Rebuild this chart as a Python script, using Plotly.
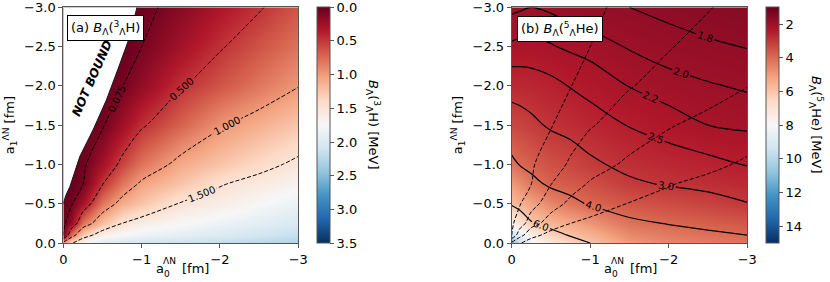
import plotly.graph_objects as go

# ---------------- data ----------------
# grid nodes: a0^{ΛN} (columns) and a1^{ΛN} (rows), in fm
A0 = [0, -0.1, -0.25, -0.5, -0.75, -1.0, -1.5, -2.0, -2.5, -3.0]
A1 = [0, -0.1, -0.25, -0.5, -0.75, -1.0, -1.5, -2.0, -2.5, -3.0]

# B_Λ(3ΛH) [MeV], one row per a1 node
B_H3 = [
    [1.10, 1.45, 1.75, 1.98, 2.05, 2.10, 2.15, 2.20, 2.25, 2.30],
    [0.05, 0.81, 1.33, 1.68, 1.78, 1.84, 1.92, 2.00, 2.08, 2.16],
    [0.03, 0.21, 0.81, 1.22, 1.50, 1.62, 1.74, 1.84, 1.94, 2.03],
    [0.00, 0.05, 0.29, 0.81, 1.10, 1.25, 1.52, 1.62, 1.74, 1.86],
    [0.00, 0.00, 0.075, 0.49, 0.82, 1.05, 1.26, 1.48, 1.60, 1.70],
    [0.00, 0.00, 0.033, 0.275, 0.57, 0.80, 1.09, 1.25, 1.41, 1.56],
    [0.00, 0.00, 0.00, 0.054, 0.255, 0.466, 0.72, 0.97, 1.12, 1.27],
    [0.00, 0.00, 0.00, 0.00, 0.066, 0.20, 0.478, 0.65, 0.82, 0.99],
    [0.00, 0.00, 0.00, 0.00, 0.00, 0.075, 0.276, 0.477, 0.64, 0.80],
    [0.00, 0.00, 0.00, 0.00, 0.00, 0.013, 0.16, 0.32, 0.478, 0.65],
]

# B_Λ(5ΛHe) [MeV], one row per a1 node
B_He5 = [
    [11.5, 9.5, 8.3, 7.2, 6.5, 6.0, 5.0, 4.6, 4.4, 4.25],
    [9.5, 8.7, 7.6, 6.4, 5.91, 5.56, 4.67, 4.34, 4.15, 4.0],
    [7.6, 7.0, 6.1, 5.63, 5.28, 4.89, 4.17, 3.96, 3.8, 3.63],
    [5.84, 5.52, 5.14, 4.58, 4.21, 3.92, 3.6, 3.41, 3.23, 3.02],
    [5.02, 4.73, 4.25, 3.85, 3.7, 3.51, 3.1, 2.95, 2.85, 2.74],
    [4.2, 3.97, 3.77, 3.51, 3.32, 3.1, 2.85, 2.72, 2.6, 2.48],
    [3.35, 3.27, 3.13, 2.92, 2.81, 2.69, 2.48, 2.32, 2.2, 2.15],
    [2.75, 2.73, 2.69, 2.6, 2.48, 2.37, 2.19, 2.08, 2.02, 1.97],
    [2.24, 2.26, 2.27, 2.22, 2.15, 2.1, 1.98, 1.9, 1.84, 1.79],
    [1.95, 1.97, 2.0, 1.96, 1.9, 1.86, 1.8, 1.73, 1.66, 1.6],
]

H3_levels = [0.075, 0.5, 1.0, 1.5]
He5_levels = [1.8, 2.0, 2.2, 2.5, 3.0, 4.0, 6.0]

# edge of the "NOT BOUND" region in panel (a)
bound_a0 = [0.0, -0.03, -0.085, -0.21, -0.38, -0.55, -0.70, -0.85, -0.94]
bound_a1 = [-0.50, -0.60, -0.72, -1.10, -1.44, -1.82, -2.22, -2.63, -3.00]

x_ticks = [0, -1, -2, -3]
y_ticks = [0.0, -0.5, -1.0, -1.5, -2.0, -2.5, -3.0]
H3_cbar_ticks = [0.0, 0.5, 1.0, 1.5, 2.0, 2.5, 3.0, 3.5]
He5_cbar_ticks = [2, 4, 6, 8, 10, 12, 14]
H3_range = [0.0, 3.5]
He5_range = [1.0, 15.0]

# ---------------- styling ----------------
RDBU = ['#67001f', '#b2182b', '#d6604d', '#f4a582', '#fddbc7', '#f7f7f7',
        '#d1e5f0', '#92c5de', '#4393c3', '#2166ac', '#053061']
# values are shown negated so the colour bar grows downward (0 on top)
cscale = [[i / 10, c] for i, c in enumerate(reversed(RDBU))]
FONT = 'DejaVu Sans'
W, H = 830, 282
SPINE = '#555555'
TOP, BOT = 7.3, 243.0

fig = go.Figure()


def neg(rows):
    return [[-v for v in r] for r in rows]


def cbar(x_px, ticks, fmt):
    return dict(
        x=x_px / W, xanchor='left', xpad=0, ypad=0,
        y=1 - (TOP + BOT) / 2 / H, yanchor='middle',
        len=(BOT - TOP) / H, lenmode='fraction', thickness=12.5, thicknessmode='pixels',
        outlinewidth=1, outlinecolor=SPINE, ticklabeloverflow='allow',
        tickvals=[-t for t in ticks], ticktext=[fmt.format(t) for t in ticks],
        ticks='outside', ticklen=4, tickcolor=SPINE,
        tickfont=dict(family=FONT, size=13, color='black'),
    )


# panel (a) heat map
fig.add_trace(go.Heatmap(
    x=A0, y=A1, z=neg(B_H3), zsmooth='best', colorscale=cscale,
    zmin=-H3_range[1], zmax=-H3_range[0], hoverinfo='skip',
    colorbar=cbar(317.3, H3_cbar_ticks, '{:.1f}'), xaxis='x', yaxis='y'))

# NOT BOUND region
fig.add_trace(go.Scatter(
    x=bound_a0 + [0.0], y=bound_a1 + [-3.0], fill='toself', fillcolor='white',
    mode='lines', line=dict(width=0, color='white'), hoverinfo='skip',
    xaxis='x', yaxis='y'))
fig.add_trace(go.Scatter(
    x=bound_a0, y=bound_a1, mode='lines', line=dict(color='#1a1a1a', width=1),
    hoverinfo='skip', xaxis='x', yaxis='y'))

# panel (a) dashed contours with labels
for lv in H3_levels:
    fig.add_trace(go.Contour(
        x=A0, y=A1, z=B_H3, showscale=False, hoverinfo='skip',
        contours=dict(start=lv, end=lv, size=1, coloring='none', showlabels=True,
                      labelformat='.3f',
                      labelfont=dict(family=FONT, size=10, color='black')),
        line=dict(color='black', width=1, dash='4px,2px'),
        xaxis='x', yaxis='y'))

# panel (b) heat map
fig.add_trace(go.Heatmap(
    x=A0, y=A1, z=neg(B_He5), zsmooth='best', colorscale=cscale,
    zmin=-He5_range[1], zmax=-He5_range[0], hoverinfo='skip',
    colorbar=cbar(766, He5_cbar_ticks, '{:d}'), xaxis='x2', yaxis='y2'))

# panel (b) dashed: B(3ΛH) contours (no labels)
for lv in H3_levels:
    fig.add_trace(go.Contour(
        x=A0, y=A1, z=B_H3, showscale=False, hoverinfo='skip',
        contours=dict(start=lv, end=lv, size=1, coloring='none', showlabels=False),
        line=dict(color='black', width=1, dash='4px,2px'),
        xaxis='x2', yaxis='y2'))

# panel (b) solid labelled contours
for lv in He5_levels:
    fig.add_trace(go.Contour(
        x=A0, y=A1, z=B_He5, showscale=False, hoverinfo='skip',
        contours=dict(start=lv, end=lv, size=1, coloring='none', showlabels=True,
                      labelformat='.1f',
                      labelfont=dict(family=FONT, size=10, color='black')),
        line=dict(color='black', width=1.2),
        xaxis='x2', yaxis='y2'))

ax = dict(showline=True, mirror=True, linecolor=SPINE, linewidth=1,
          ticks='outside', ticklen=4, tickcolor=SPINE, showgrid=False,
          zeroline=False, ticklabeloverflow='allow',
          tickfont=dict(family=FONT, size=13, color='black'))
xax = dict(range=[0, -3], tickvals=x_ticks, ticktext=['0', '−1', '−2', '−3'], **ax)
yax = dict(range=[0, -3], tickvals=y_ticks,
           ticktext=[('−' if v < 0 else '') + '{:.1f}'.format(abs(v)) for v in y_ticks],
           **ax)
ydom = [1 - BOT / H, 1 - TOP / H]
yt = dict(text='a<sub>1</sub><sup>ΛN</sup> [fm]', font=dict(family=FONT, size=13), standoff=6)

fig.update_layout(
    width=W, height=H, margin=dict(l=0, r=0, t=0, b=0, autoexpand=False),
    paper_bgcolor='white', plot_bgcolor='white', showlegend=False,
    font=dict(family=FONT, size=13, color='black'),
    xaxis=dict(domain=[63.3 / W, 298.3 / W], anchor='y', **xax),
    yaxis=dict(domain=ydom, anchor='x', title=yt, **yax),
    xaxis2=dict(domain=[511.7 / W, 747.3 / W], anchor='y2', **xax),
    yaxis2=dict(domain=ydom, anchor='x2', title=yt, **yax),
)


def ptxt(xp, yp, text, size=13, xanchor='left', **kw):
    fig.add_annotation(x=xp / W, y=1 - yp / H, xref='paper', yref='paper',
                       xanchor=xanchor, yanchor='middle', showarrow=False,
                       borderpad=0, text=text,
                       font=dict(family=FONT, size=size, color='black'), **kw)


# x-axis titles: a with stacked sub "0" and sup "ΛN", then "[fm]"
for off in (0.0, 448.4):
    ptxt(154.5 + off, 268, 'a')
    ptxt(162.5 + off, 273.5, '0', size=9)
    ptxt(162.0 + off, 260.5, 'ΛN', size=9)
    ptxt(180.5 + off, 268, '[fm]')

box = dict(xref='paper', yref='paper', xanchor='left', yanchor='top', showarrow=False,
           bgcolor='white', bordercolor='black', borderwidth=1, borderpad=3,
           font=dict(family=FONT, size=13, color='black'))
fig.add_annotation(x=66.7 / W, y=1 - 15 / H,
                   text='(a) <i>B</i><sub>Λ</sub>(<sup>3</sup><sub>Λ</sub>H)', **box)
fig.add_annotation(x=516.7 / W, y=1 - 16 / H,
                   text='(b) <i>B</i><sub>Λ</sub>(<sup>5</sup><sub>Λ</sub>He)', **box)

fig.add_annotation(x=-0.37, y=-2.1, xref='x', yref='y', showarrow=False,
                   text='<b><i>NOT BOUND</i></b>', textangle=-66,
                   font=dict(family=FONT, size=12, color='black'))

ptxt(373, 125, '<i>B</i><sub>Λ</sub>(<sup>3</sup><sub>Λ</sub>H) [MeV]', xanchor='center',
     textangle=90)
ptxt(816, 125, '<i>B</i><sub>Λ</sub>(<sup>5</sup><sub>Λ</sub>He) [MeV]', xanchor='center',
     textangle=90)

fig.write_html('out.html', config={'displayModeBar': False},
               post_script="document.body.style.margin='0px';"
                           "document.body.style.overflow='hidden';")
